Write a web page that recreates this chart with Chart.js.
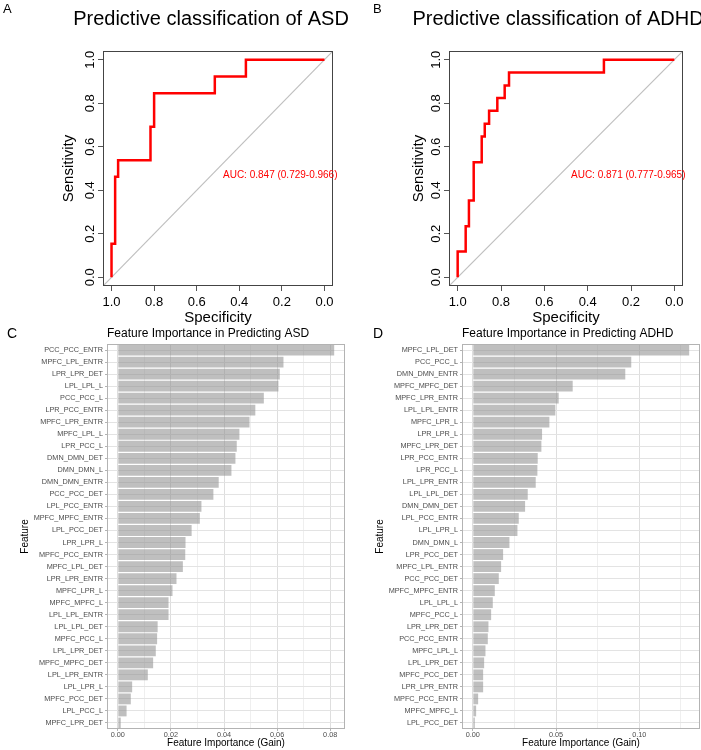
<!DOCTYPE html>
<html>
<head>
<meta charset="utf-8">
<script src="https://cdn.jsdelivr.net/npm/chart.js@4.4.1/dist/chart.umd.min.js"></script>
<style>
  body { margin: 0; background: #fff; }
  #wrap { position: relative; width: 701px; height: 750px; }
  canvas { position: absolute; }
</style>
</head>
<body>
<div id="wrap">
  <canvas id="rocAsd" width="350" height="330" style="left:0;top:0"></canvas>
  <canvas id="rocAdhd" width="351" height="330" style="left:350px;top:0"></canvas>
  <canvas id="impAsd" width="350" height="430" style="left:0;top:320px"></canvas>
  <canvas id="impAdhd" width="351" height="430" style="left:350px;top:320px"></canvas>
</div>
<script>
const specAsd = [1, 1, 0.983, 0.983, 0.969, 0.969, 0.817, 0.817, 0.80, 0.80, 0.515, 0.515, 0.369, 0.369, 0];
const sensAsd = [0, 0.154, 0.154, 0.462, 0.462, 0.538, 0.538, 0.692, 0.692, 0.846, 0.846, 0.923, 0.923, 1, 1];
const aucAsd = 0.847;
const ciAsd = [0.729, 0.966];

const specAdhd = [1, 1, 0.963, 0.963, 0.948, 0.948, 0.926, 0.926, 0.889, 0.889, 0.875, 0.875, 0.855, 0.855,
                  0.817, 0.817, 0.783, 0.783, 0.763, 0.763, 0.325, 0.325, 0];
const sensAdhd = [0, 0.118, 0.118, 0.235, 0.235, 0.353, 0.353, 0.529, 0.529, 0.647, 0.647, 0.706, 0.706, 0.765,
                  0.765, 0.824, 0.824, 0.882, 0.882, 0.941, 0.941, 1, 1];
const aucAdhd = 0.871;
const ciAdhd = [0.777, 0.965];

const rocTicks = [0, 0.2, 0.4, 0.6, 0.8, 1.0];
const AXIS_LO = -0.04, AXIS_HI = 1.04;

// feature importance (gain), panel C
const featuresAsd = ['PCC_PCC_ENTR', 'MPFC_LPL_ENTR', 'LPR_LPR_DET', 'LPL_LPL_L', 'PCC_PCC_L', 'LPR_PCC_ENTR',
  'MPFC_LPR_ENTR', 'MPFC_LPL_L', 'LPR_PCC_L', 'DMN_DMN_DET', 'DMN_DMN_L', 'DMN_DMN_ENTR', 'PCC_PCC_DET',
  'LPL_PCC_ENTR', 'MPFC_MPFC_ENTR', 'LPL_PCC_DET', 'LPR_LPR_L', 'MPFC_PCC_ENTR', 'MPFC_LPL_DET', 'LPR_LPR_ENTR',
  'MPFC_LPR_L', 'MPFC_MPFC_L', 'LPL_LPL_ENTR', 'LPL_LPL_DET', 'MPFC_PCC_L', 'LPL_LPR_DET', 'MPFC_MPFC_DET',
  'LPL_LPR_ENTR', 'LPL_LPR_L', 'MPFC_PCC_DET', 'LPL_PCC_L', 'MPFC_LPR_DET'];
const gainAsd = [0.0815, 0.0624, 0.0610, 0.0605, 0.0550, 0.0518, 0.0496, 0.0458, 0.0448, 0.0443, 0.0428, 0.0380,
  0.0360, 0.0315, 0.0309, 0.0278, 0.0255, 0.0254, 0.0245, 0.0221, 0.0206, 0.0191, 0.0191, 0.0150, 0.0148,
  0.0143, 0.0133, 0.0113, 0.0054, 0.0049, 0.0033, 0.0011];
const majorTicksAsd = [0, 0.02, 0.04, 0.06, 0.08];
const minorTicksAsd = [0.01, 0.03, 0.05, 0.07];

// feature importance (gain), panel D
const featuresAdhd = ['MPFC_LPL_DET', 'PCC_PCC_L', 'DMN_DMN_ENTR', 'MPFC_MPFC_DET', 'MPFC_LPR_ENTR', 'LPL_LPL_ENTR',
  'MPFC_LPR_L', 'LPR_LPR_L', 'MPFC_LPR_DET', 'LPR_PCC_ENTR', 'LPR_PCC_L', 'LPL_LPR_ENTR', 'LPL_LPL_DET',
  'DMN_DMN_DET', 'LPL_PCC_ENTR', 'LPL_LPR_L', 'DMN_DMN_L', 'LPR_PCC_DET', 'MPFC_LPL_ENTR', 'PCC_PCC_DET',
  'MPFC_MPFC_ENTR', 'LPL_LPL_L', 'MPFC_PCC_L', 'LPR_LPR_DET', 'PCC_PCC_ENTR', 'MPFC_LPL_L', 'LPL_LPR_DET',
  'MPFC_PCC_DET', 'LPR_LPR_ENTR', 'MPFC_PCC_ENTR', 'MPFC_MPFC_L', 'LPL_PCC_DET'];
const gainAdhd = [0.1300, 0.0952, 0.0916, 0.0600, 0.0516, 0.0496, 0.0460, 0.0416, 0.0412, 0.0390, 0.0388, 0.0378,
  0.0330, 0.0314, 0.0276, 0.0268, 0.0220, 0.0182, 0.0170, 0.0156, 0.0132, 0.0120, 0.0110, 0.0094, 0.0090,
  0.0076, 0.0068, 0.0062, 0.0062, 0.0032, 0.0020, 0.0012];
const majorTicksAdhd = [0, 0.05, 0.10];
const minorTicksAdhd = [0.025, 0.075, 0.125];

const FONT = "'Liberation Sans', Arial, Helvetica, sans-serif";
Chart.defaults.font.family = FONT;
Chart.defaults.color = '#000';

// frame round the plot area, panel letters, titles and the AUC note
const panelDecor = {
  id: 'panelDecor',
  afterDraw(chart, args, opts) {
    const ctx = chart.ctx;
    const a = chart.chartArea;
    ctx.save();
    if (opts.frame) {
      ctx.strokeStyle = opts.frame;
      ctx.lineWidth = 1;
      ctx.strokeRect(Math.round(a.left) + 0.5, Math.round(a.top) + 0.5,
        Math.round(a.right - a.left) - 1, Math.round(a.bottom - a.top) - 1);
    }
    (opts.texts || []).forEach(t => {
      ctx.font = t.size + 'px ' + FONT;
      ctx.fillStyle = t.color || '#000';
      ctx.textAlign = t.align || 'left';
      ctx.textBaseline = t.baseline || 'alphabetic';
      ctx.fillText(t.text, t.x, t.y);
    });
    if (opts.auc) {
      const x = chart.scales.x.getPixelForValue(0.5) + 5;
      const y = chart.scales.y.getPixelForValue(0.5) + 2;
      ctx.font = '10px ' + FONT;
      ctx.fillStyle = '#FF0000';
      ctx.textAlign = 'left';
      ctx.textBaseline = 'top';
      ctx.fillText(opts.auc, x, y);
    }
    ctx.restore();
  }
};

function makeRoc(id, spec, sens, auc, ci, lay) {
  return new Chart(document.getElementById(id), {
    type: 'scatter',
    data: {
      datasets: [{
        data: spec.map((s, i) => ({ x: s, y: sens[i] })),
        showLine: true, borderColor: '#FF0000', borderWidth: 2.5, pointRadius: 0, tension: 0
      }, {
        data: [{ x: AXIS_HI, y: AXIS_LO }, { x: AXIS_LO, y: AXIS_HI }],
        showLine: true, borderColor: '#BFBFBF', borderWidth: 1.2, pointRadius: 0
      }]
    },
    options: {
      responsive: false, animation: false, devicePixelRatio: 1,
      layout: { padding: { left: 0, top: lay.top, right: lay.right, bottom: 0 } },
      plugins: {
        legend: { display: false },
        tooltip: { enabled: false },
        panelDecor: {
          frame: '#444',
          auc: 'AUC: ' + auc.toFixed(3) + ' (' + ci[0].toFixed(3) + '-' + ci[1].toFixed(3) + ')',
          texts: [
            { text: lay.letter, x: lay.letterX, y: 3, size: 13, baseline: 'top' },
            { text: lay.title, x: lay.titleX, y: 25, size: 20, align: 'center' }
          ]
        }
      },
      scales: {
        x: {
          type: 'linear', reverse: true, min: AXIS_LO, max: AXIS_HI,
          afterBuildTicks: s => { s.ticks = rocTicks.map(v => ({ value: v })); },
          afterFit: s => { s.height = lay.xh; },
          ticks: { callback: v => v.toFixed(1), font: { size: 13, lineHeight: 1 }, color: '#000',
                   padding: 5, autoSkip: false, maxRotation: 0 },
          grid: { drawOnChartArea: false, tickLength: 5, tickColor: '#555' },
          border: { display: false },
          title: { display: true, text: 'Specificity', font: { size: 15 }, color: '#000',
                   padding: { top: 0, bottom: 3.5 } }
        },
        y: {
          type: 'linear', min: AXIS_LO, max: AXIS_HI,
          afterBuildTicks: s => { s.ticks = rocTicks.map(v => ({ value: v })); },
          afterFit: s => { s.width = lay.yw; },
          ticks: { callback: v => v.toFixed(1), font: { size: 13 }, color: '#000', padding: -1,
                   minRotation: 90, maxRotation: 90, crossAlign: 'center', autoSkip: false },
          grid: { drawOnChartArea: false, tickLength: 5, tickColor: '#555' },
          border: { display: false },
          title: { display: true, text: 'Sensitivity', font: { size: 15 }, color: '#000',
                   padding: { top: 59.5, bottom: 0 } }
        }
      }
    },
    plugins: [panelDecor]
  });
}

function makeImportance(id, features, gain, majors, minors, lay) {
  const hi = Math.max(...gain);
  const pad = hi * 0.05;
  const tickVals = majors.concat(minors).sort((a, b) => a - b);
  const isMajor = v => majors.some(m => Math.abs(m - v) < 1e-9);
  return new Chart(document.getElementById(id), {
    type: 'bar',
    data: {
      labels: features,
      datasets: [{
        data: gain, backgroundColor: 'rgba(145,145,145,0.58)',
        barPercentage: 0.9, categoryPercentage: 1
      }]
    },
    options: {
      indexAxis: 'y',
      responsive: false, animation: false, devicePixelRatio: 1,
      layout: { padding: { left: 0, top: lay.top, right: lay.right, bottom: 0 } },
      plugins: {
        legend: { display: false },
        tooltip: { enabled: false },
        panelDecor: {
          frame: '#B3B3B3',
          texts: [
            { text: lay.letter, x: lay.letterX, y: 7, size: 14, baseline: 'top' },
            { text: lay.title, x: lay.yw, y: 14, size: 12, baseline: 'middle' }
          ]
        }
      },
      scales: {
        x: {
          type: 'linear', min: -pad, max: hi + pad,
          afterBuildTicks: s => { s.ticks = tickVals.map(v => ({ value: v })); },
          afterFit: s => { s.height = lay.xh; },
          ticks: { autoSkip: false, maxRotation: 0, callback: v => isMajor(v) ? v.toFixed(2) : '',
                   font: { size: 7.3, lineHeight: 1 }, color: '#4D4D4D', padding: 0 },
          grid: {
            color: c => (c.tick && isMajor(c.tick.value)) ? '#DEDEDE' : '#EFEFEF',
            tickColor: c => (c.tick && isMajor(c.tick.value)) ? '#B3B3B3' : 'rgba(0,0,0,0)',
            tickLength: 2
          },
          border: { display: false },
          title: { display: true, text: 'Feature Importance (Gain)', font: { size: 10 }, color: '#000',
                   padding: { top: 0, bottom: 1 } }
        },
        y: {
          type: 'category',
          afterFit: s => { s.width = lay.yw; },
          ticks: { autoSkip: false, font: { size: 7.3 }, color: '#4D4D4D', padding: 2 },
          grid: { offset: false, color: '#E3E3E3', tickColor: '#B3B3B3', tickLength: 2 },
          border: { display: false },
          title: { display: true, text: 'Feature', font: { size: 10 }, color: '#000',
                   padding: { top: lay.yt, bottom: 0 } }
        }
      }
    },
    plugins: [panelDecor]
  });
}

makeRoc('rocAsd', specAsd, sensAsd, aucAsd, ciAsd,
  { top: 51, right: 17, yw: 103, xh: 44, letter: 'A', letterX: 3, title: 'Predictive classification of ASD', titleX: 211 });
makeRoc('rocAdhd', specAdhd, sensAdhd, aucAdhd, ciAdhd,
  { top: 51, right: 18, yw: 99, xh: 44, letter: 'B', letterX: 23, title: 'Predictive classification of ADHD', titleX: 208 });

makeImportance('impAsd', featuresAsd, gainAsd, majorTicksAsd, minorTicksAsd,
  { top: 24, right: 5, yw: 107, xh: 21, yt: 19, letter: 'C', letterX: 7, title: 'Feature Importance in Predicting ASD' });
makeImportance('impAdhd', featuresAdhd, gainAdhd, majorTicksAdhd, minorTicksAdhd,
  { top: 24, right: 1, yw: 112, xh: 21, yt: 24, letter: 'D', letterX: 23, title: 'Feature Importance in Predicting ADHD' });
</script>
</body>
</html>
